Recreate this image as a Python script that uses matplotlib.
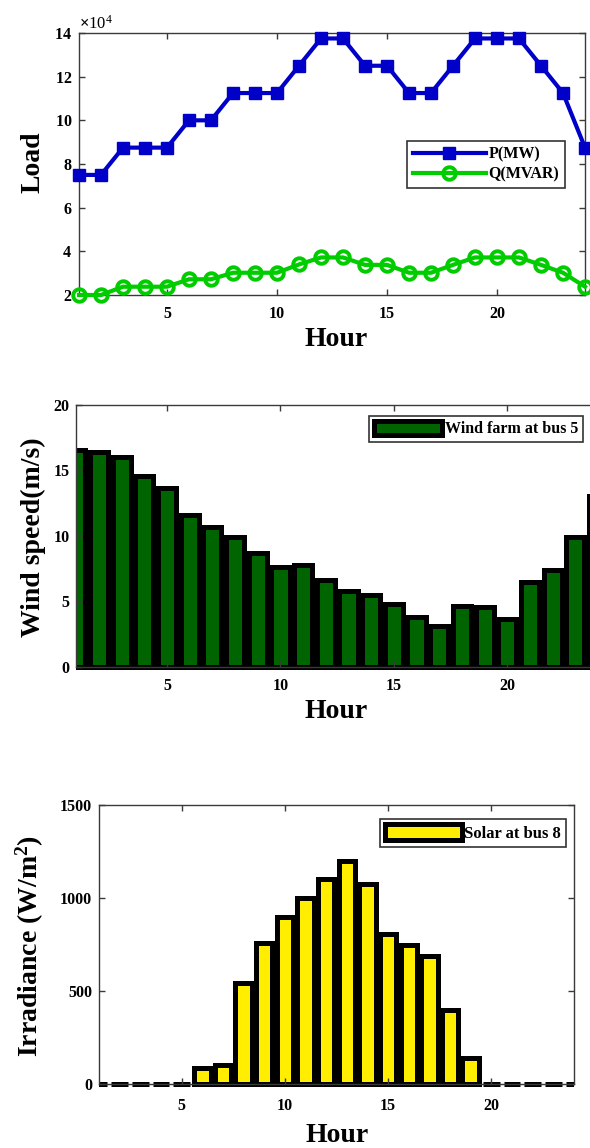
import matplotlib
matplotlib.use("Agg")
import matplotlib.pyplot as plt
from matplotlib.ticker import ScalarFormatter, FixedLocator
from matplotlib.patches import Rectangle

# ---------------- data ----------------
hours = list(range(1, 25))
load_p_mw = [75000, 75000, 87500, 87500, 87500, 100000, 100000, 112500, 112500, 112500,
             125000, 137500, 137500, 125000, 125000, 112500, 112500, 125000, 137500, 137500,
             137500, 125000, 112500, 87500]
load_q_mvar = [20000, 20000, 23800, 23800, 23800, 27200, 27200, 30200, 30200, 30200,
               34000, 37200, 37200, 33800, 33800, 30200, 30200, 33800, 37200, 37200,
               37200, 33800, 30200, 23800]
wind_speed = [16.6, 16.45, 16.0, 14.6, 13.7, 11.6, 10.65, 9.9, 8.7, 7.65,
              7.8, 6.65, 5.8, 5.5, 4.8, 3.85, 3.15, 4.65, 4.55, 3.65,
              6.5, 7.4, 9.9, 13.05]
solar_irr = [0, 0, 0, 0, 0, 85, 100, 545, 760, 900,
             1000, 1100, 1200, 1075, 805, 750, 690, 400, 140, 0,
             0, 0, 0, 0]
x_ticks = [5, 10, 15, 20]
load_labels = ["P(MW)", "Q(MVAR)"]
wind_label = "Wind farm at bus 5"
solar_label = "Solar at bus 8"

# ---------------- style ----------------
plt.rcParams['font.family'] = ['Liberation Serif', 'DejaVu Serif']
plt.rcParams['mathtext.fontset'] = 'custom'
plt.rcParams['mathtext.rm'] = 'Liberation Serif:bold'
plt.rcParams['mathtext.bf'] = 'Liberation Serif:bold'
plt.rcParams['mathtext.it'] = 'Liberation Serif:bold'

W, H = 590, 1148
fig = plt.figure(figsize=(W / 100, H / 100), dpi=100)

def px_axes(l, r, t, b):
    return fig.add_axes([l / W, 1 - b / H, (r - l) / W, (b - t) / H])

spine_col = '#3a3a3a'

def style(ax, yticks):
    for s in ax.spines.values():
        s.set_color(spine_col)
        s.set_linewidth(1.0)
    ax.tick_params(direction='in', length=4, width=1, color=spine_col,
                   top=True, right=True, labelsize=11.5)
    ax.tick_params(axis='x', pad=8)
    ax.tick_params(axis='y', pad=5)
    ax.set_xlim(1, 24)
    ax.xaxis.set_major_locator(FixedLocator(x_ticks))
    ax.yaxis.set_major_locator(FixedLocator(yticks))
    for lab in ax.get_xticklabels() + ax.get_yticklabels():
        lab.set_fontweight('bold')

def clip_bars(ax, bars):
    # clip to the axes area, extended slightly downward so the bottom edges show
    clip = Rectangle((0, -0.03), 1, 1.06, transform=ax.transAxes, visible=False)
    ax.add_patch(clip)
    for b in bars:
        b.set_clip_path(clip)

label_kw = dict(fontsize=20, fontweight='bold')

# ---------------- top: load ----------------
ax1 = px_axes(79, 585, 33, 295)
ax1.plot(hours, load_p_mw, color='#0000c8', lw=3, marker='s', ms=9,
         mfc='#0000c8', mec='#0000c8', label=load_labels[0], clip_on=False, zorder=3)
ax1.plot(hours, load_q_mvar, color='#00cc00', lw=3, marker='o', ms=9,
         mfc='none', mec='#00cc00', mew=2.8, label=load_labels[1], clip_on=False, zorder=3)
ax1.set_ylim(20000, 140000)
style(ax1, [20000, 40000, 60000, 80000, 100000, 120000, 140000])
fmt = ScalarFormatter(useMathText=True)
fmt.set_powerlimits((4, 4))
ax1.yaxis.set_major_formatter(fmt)
ax1.yaxis.get_offset_text().set_fontsize(12)
for lab in ax1.get_yticklabels():
    lab.set_fontweight('bold')
leg1 = ax1.legend(loc='upper left', bbox_to_anchor=(407 / W, 1 - 141 / H),
                  bbox_transform=fig.transFigure, borderaxespad=0, fancybox=False,
                  framealpha=1, edgecolor='#333333', handlelength=4.6,
                  borderpad=0.35, labelspacing=0.25, handletextpad=0.15,
                  prop={'size': 11.5, 'weight': 'bold'})
leg1.get_frame().set_linewidth(1.2)
fig.text(33 / W, 1 - 162 / H, 'Load', rotation=90, ha='center', va='center', **label_kw)
fig.text(336 / W, 1 - 340 / H, 'Hour', ha='center', va='center', **label_kw)

# ---------------- middle: wind ----------------
ax2 = px_axes(76.3, 598, 405, 667)
bars2 = ax2.bar(hours, wind_speed, width=0.8, color='#006400', edgecolor='black',
                linewidth=3.6, label=wind_label)
clip_bars(ax2, bars2)
ax2.set_ylim(0, 20)
style(ax2, [0, 5, 10, 15, 20])
leg2 = ax2.legend(loc='upper left', bbox_to_anchor=(369 / W, 1 - 416 / H),
                  bbox_transform=fig.transFigure, borderaxespad=0, fancybox=False,
                  framealpha=1, edgecolor='#333333', handlelength=4.3,
                  handleheight=1.0, borderpad=0.3, handletextpad=0.15,
                  prop={'weight': 'bold', 'size': 11.5})
leg2.get_frame().set_linewidth(1.2)
fig.text(33 / W, 1 - 537 / H, 'Wind speed(m/s)', rotation=90, ha='center', va='center', **label_kw)
fig.text(336 / W, 1 - 711 / H, 'Hour', ha='center', va='center', **label_kw)

# ---------------- bottom: solar ----------------
ax3 = px_axes(99, 574, 805, 1084)
bars3 = ax3.bar(hours, solar_irr, width=0.8, color='#ffee00', edgecolor='black',
                linewidth=3.6, label=solar_label)
clip_bars(ax3, bars3)
ax3.set_ylim(0, 1500)
style(ax3, [0, 500, 1000, 1500])
ax3.tick_params(axis='x', pad=10)
leg3 = ax3.legend(loc='upper left', bbox_to_anchor=(380 / W, 1 - 819 / H),
                  bbox_transform=fig.transFigure, borderaxespad=0, fancybox=False,
                  framealpha=1, edgecolor='#333333', handlelength=4.6,
                  handleheight=1.1, borderpad=0.3, handletextpad=0.15,
                  prop={'weight': 'bold', 'size': 12})
leg3.get_frame().set_linewidth(1.2)
fig.text(30 / W, 1 - 946 / H, r'Irradiance (W/m$^{2}$)', rotation=90, ha='center',
         va='center', **label_kw)
fig.text(337 / W, 1 - 1135 / H, 'Hour', ha='center', va='center', **label_kw)

fig.savefig('out.png', dpi=100)
